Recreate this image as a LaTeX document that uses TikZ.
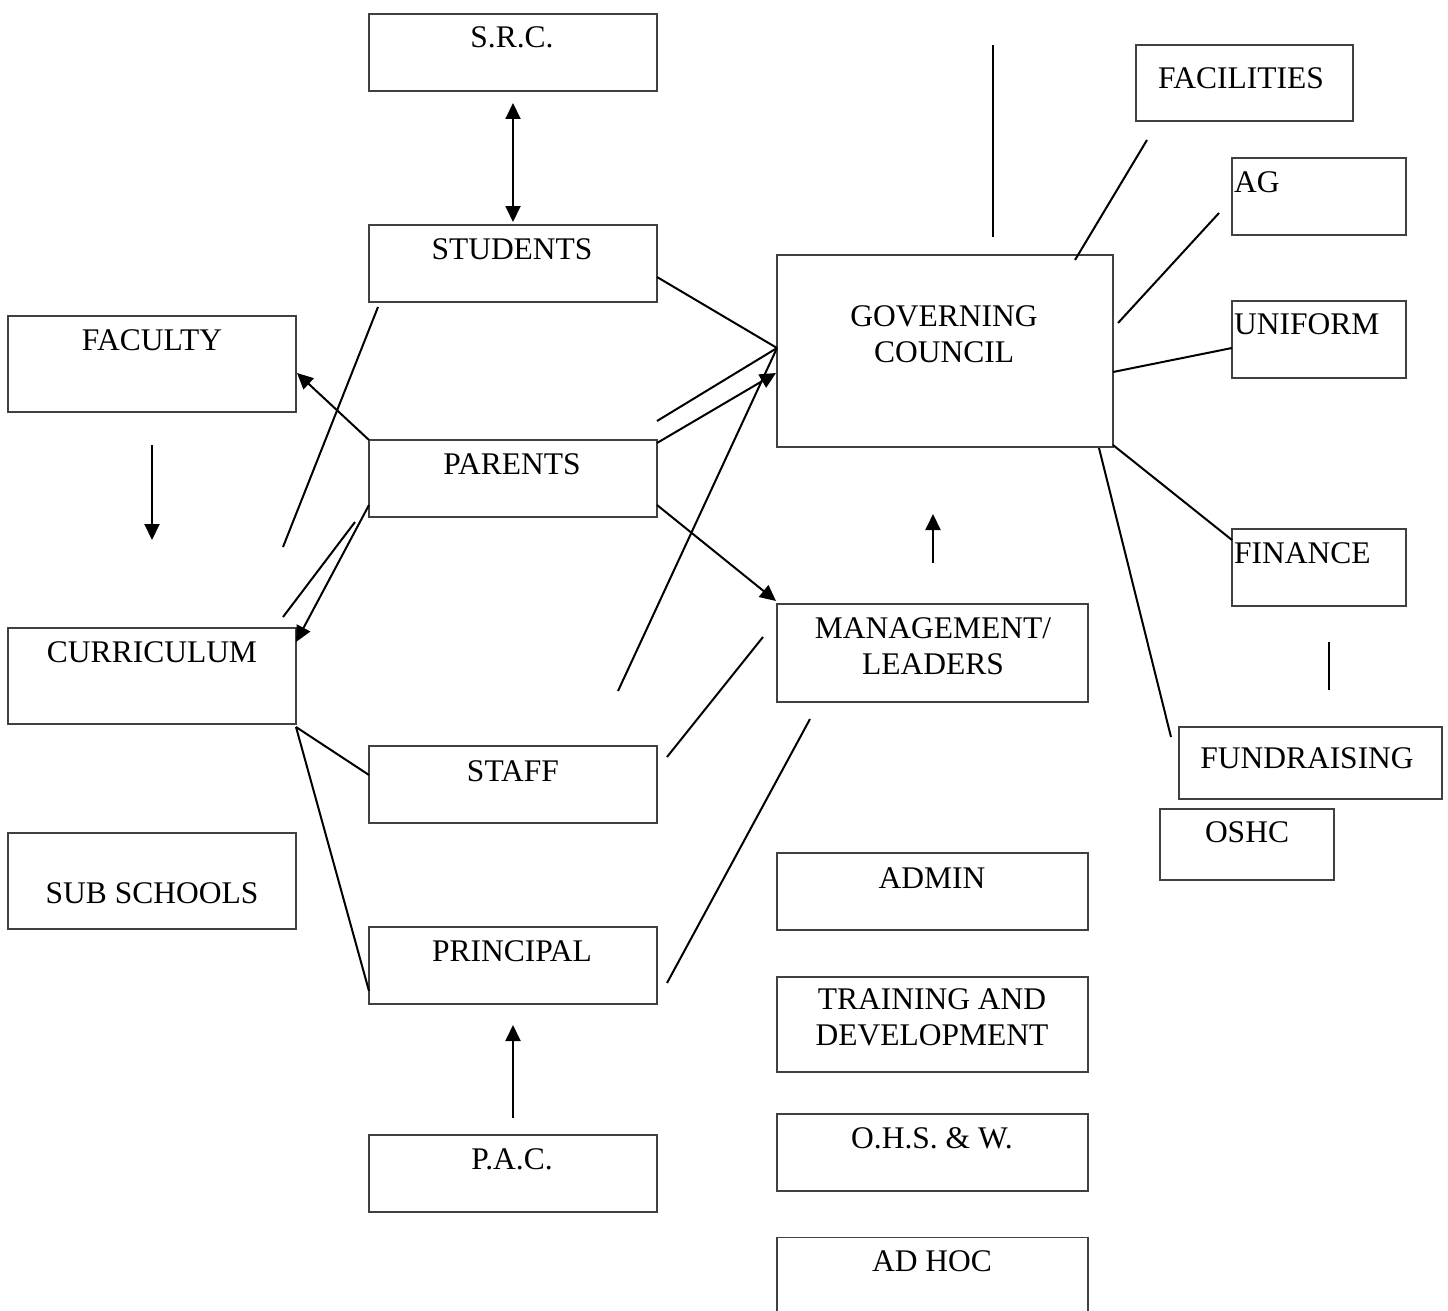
\documentclass[tikz,border=0pt]{standalone}
\usepackage{fontspec}
\setmainfont{Liberation Serif}
\usetikzlibrary{arrows.meta}
\begin{document}
\begin{tikzpicture}[x=1pt,y=-1pt,
  box/.style={draw=black!75, line width=1.5pt, inner sep=0pt, outer sep=0pt},
  lbl/.style={font=\fontsize{31.5}{36}\selectfont, inner sep=0pt, anchor=base},
  lbl2/.style={font=\fontsize{31.5}{36}\selectfont, inner sep=0pt, anchor=north, align=center},
  conn/.style={line width=2pt, black},
  arr/.style={conn, -{Triangle[length=16pt,width=15pt]}},
  darr/.style={conn, {Triangle[length=16pt,width=15pt]}-{Triangle[length=16pt,width=15pt]}}]
\useasboundingbox (0,0) rectangle (1448,1311);
% ---------- boxes ----------
\node[box,minimum width=288pt,minimum height=77pt] (src)   at (513,52.5) {};
\node[box,minimum width=288pt,minimum height=77pt] (stu)   at (513,263.5) {};
\node[box,minimum width=288pt,minimum height=96pt] (fac)   at (152,364) {};
\node[box,minimum width=288pt,minimum height=77pt] (par)   at (513,478.5) {};
\node[box,minimum width=288pt,minimum height=96pt] (cur)   at (152,676) {};
\node[box,minimum width=288pt,minimum height=77pt] (staff) at (513,784.5) {};
\node[box,minimum width=288pt,minimum height=96pt] (sub)   at (152,881) {};
\node[box,minimum width=288pt,minimum height=77pt] (prin)  at (513,965.5) {};
\node[box,minimum width=288pt,minimum height=77pt] (pac)   at (513,1173.5) {};
\node[box,minimum width=336pt,minimum height=192pt] (gc)   at (945,351) {};
\node[box,minimum width=311pt,minimum height=98pt] (mgmt)  at (932.5,653) {};
\node[box,minimum width=311pt,minimum height=77pt] (admin) at (932.5,891.5) {};
\node[box,minimum width=311pt,minimum height=95pt] (train) at (932.5,1024.5) {};
\node[box,minimum width=311pt,minimum height=77pt] (ohs)   at (932.5,1152.5) {};
\node[box,minimum width=311pt,minimum height=77pt] (adhoc) at (932.5,1276) {};
\node[box,minimum width=217pt,minimum height=76pt] (facil) at (1244.5,83) {};
\node[box,minimum width=174pt,minimum height=77pt] (ag)    at (1319,196.5) {};
\node[box,minimum width=174pt,minimum height=77pt] (uni)   at (1319,339.5) {};
\node[box,minimum width=174pt,minimum height=77pt] (fin)   at (1319,567.5) {};
\node[box,minimum width=263pt,minimum height=72pt] (fund)  at (1310.5,763) {};
\node[box,minimum width=174pt,minimum height=71pt] (oshc)  at (1247,844.5) {};
% ---------- labels ----------
\node[lbl] (srcT)   at (512,48)   {S.R.C.};
\node[lbl] (stuT)   at (512,259)  {STUDENTS};
\node[lbl] (facT)   at (152,350)  {FACULTY};
\node[lbl] (parT)   at (512,474)  {PARENTS};
\node[lbl] (curT)   at (152,662)  {CURRICULUM};
\node[lbl] (staffT) at (513,781)  {STAFF};
\node[lbl] (subT)   at (152,903)  {SUB SCHOOLS};
\node[lbl] (prinT)  at (512,961)  {PRINCIPAL};
\node[lbl] (pacT)   at (512,1169) {P.A.C.};
\node[lbl] (adminT) at (932,888)  {ADMIN};
\node[lbl] (ohsT)   at (932,1148) {O.H.S. \& W.};
\node[lbl] (adhocT) at (932,1271) {AD HOC};
\node[lbl] (facilT) at (1241,89)  {FACILITIES};
\node[lbl,anchor=base west] (agT)  at (1234,192) {AG};
\node[lbl,anchor=base west] (uniT) at (1234,334) {UNIFORM};
\node[lbl,anchor=base west] (finT) at (1234,563) {FINANCE};
\node[lbl] (fundT)  at (1307,768) {FUNDRAISING};
\node[lbl] (oshcT)  at (1247,842) {OSHC};
\node[lbl2] (gcT)    at (944,305)  {GOVERNING\\COUNCIL};
\node[lbl2] (mgmtT)  at (933,617)  {MANAGEMENT/\\LEADERS};
\node[lbl2] (trainT) at (932,988)  {TRAINING AND\\DEVELOPMENT};
% ---------- free ends ----------
\coordinate (e1) at (283,547);
\coordinate (e2) at (618,691);
\coordinate (e3) at (355,522);
\coordinate (e4) at (283,617);
\coordinate (e5) at (993,45);
% ---------- connectors ----------
\draw[darr] ([yshift=-12pt]src.south) -- ([yshift=3pt]stu.north);
\draw[conn] ([yshift=-13.5pt]stu.east) -- ([yshift=3pt]gc.west);
\draw[conn] ([xshift=9pt,yshift=-5pt]stu.south west) -- (e1);
\draw[arr]  (par.north west) -- ([xshift=1pt,yshift=-9pt]fac.east);
\draw[arr]  ([yshift=-33pt]fac.south) -- ([yshift=88pt]cur.north);
\draw[conn] ([yshift=19pt]par.north east) -- ([yshift=3pt]gc.west);
\draw[arr]  ([yshift=-3pt]par.north east) -- ([xshift=-1pt,yshift=-22pt]gc.west);
\draw[conn] (e2) -- ([yshift=3pt]gc.west);
\draw[arr]  ([yshift=12pt]par.south east) -- ([xshift=-1pt,yshift=3pt]mgmt.north west);
\draw[conn] (e3) -- (e4);
\draw[arr]  ([yshift=12pt]par.south west) -- ([yshift=-14pt]cur.north east);
\draw[arr]  ([xshift=0.5pt,yshift=41pt]mgmt.north) -- ([xshift=-12pt,yshift=-67pt]gc.south);
\draw[conn] ([xshift=10pt,yshift=-11pt]staff.north east) -- ([xshift=-14pt,yshift=-33pt]mgmt.north west);
\draw[conn] ([xshift=10pt,yshift=-17.5pt]prin.east) -- ([xshift=33pt,yshift=-17pt]mgmt.south west);
\draw[conn] ([yshift=-3pt]cur.south east) -- ([yshift=9.5pt]staff.west);
\draw[conn] ([yshift=-3pt]cur.south east) -- ([yshift=-25.5pt]prin.west);
\draw[arr]  ([yshift=17pt]pac.north) -- ([yshift=-21pt]prin.south);
\draw[conn] (e5) -- ([xshift=48pt,yshift=18pt]gc.north);
\draw[conn] ([xshift=130pt,yshift=-5pt]gc.north) -- ([xshift=11pt,yshift=-19pt]facil.south west);
\draw[conn] ([xshift=5pt,yshift=28pt]gc.east) -- ([xshift=-13pt,yshift=-16.5pt]ag.west);
\draw[conn] ([yshift=-21pt]gc.east) -- ([yshift=-8.5pt]uni.west);
\draw[conn] ([yshift=2pt]gc.south east) -- ([yshift=-11pt]fin.north west);
\draw[conn] ([xshift=-14pt,yshift=-1pt]gc.south east) -- ([xshift=-8pt,yshift=-10pt]fund.north west);
\draw[conn] ([xshift=10pt,yshift=-36pt]fin.south) -- ([xshift=18.5pt,yshift=37pt]fund.north);
\end{tikzpicture}
\end{document}
